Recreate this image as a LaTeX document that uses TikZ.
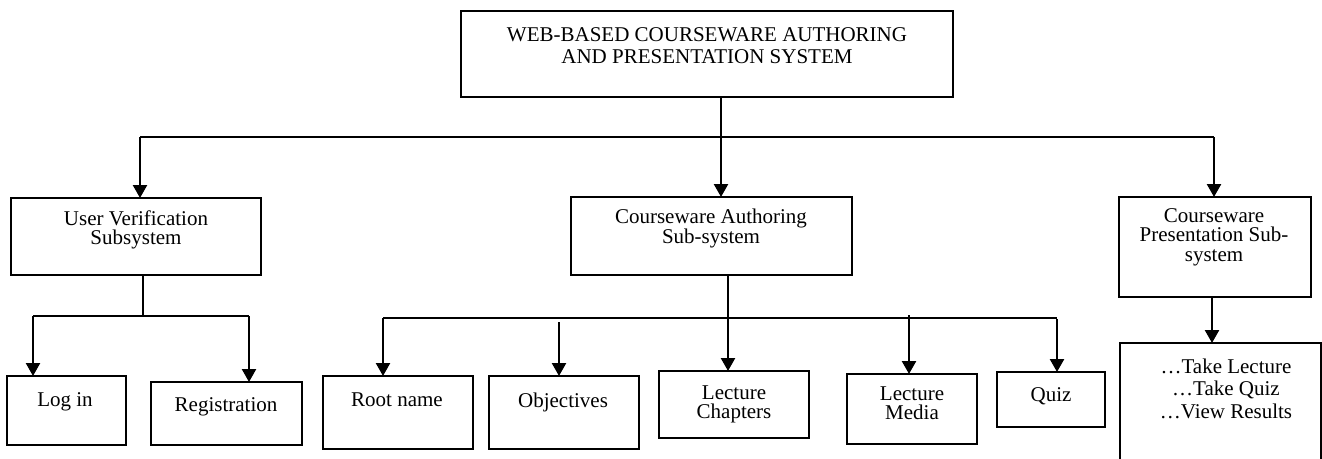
\documentclass[tikz,border=0pt]{standalone}
\usepackage{fontspec}
\setmainfont{Liberation Serif}
\usetikzlibrary{arrows.meta}
\begin{document}
\begin{tikzpicture}[x=1pt,y=-1pt,
  box/.style={draw,rectangle,line width=2.3pt,inner sep=0pt,outer sep=0pt},
  lbl/.style={anchor=north,inner sep=0pt,align=center,
    font=\fontsize{21}{#1}\selectfont},
  lbl/.default=19.5,
  bus/.style={line width=1.7pt},
  arr/.style={line width=2.4pt,-{Triangle[width=14pt,length=13pt]}},
]
\path[use as bounding box] (0,0) rectangle (1322,458);

% boxes
\node[box,minimum width=492pt,minimum height=86pt] (top) at (707,54) {};
\node[box,minimum width=250pt,minimum height=77pt] (uv) at (136,236.5) {};
\node[box,minimum width=281pt,minimum height=78pt] (auth) at (711.5,236) {};
\node[box,minimum width=192pt,minimum height=100pt] (pres) at (1215,247) {};
\node[box,minimum width=119pt,minimum height=69pt] (login) at (66.5,410.5) {};
\node[box,minimum width=151pt,minimum height=63pt] (reg) at (226.5,413.5) {};
\node[box,minimum width=150pt,minimum height=73pt] (root) at (398,412.5) {};
\node[box,minimum width=150pt,minimum height=73pt] (obj) at (564,412.5) {};
\node[box,minimum width=150pt,minimum height=67pt] (chap) at (734,404.5) {};
\node[box,minimum width=130pt,minimum height=70pt] (media) at (912,409) {};
\node[box,minimum width=108pt,minimum height=55pt] (quiz) at (1051,399.5) {};
\node[box,minimum width=201pt,minimum height=132pt] (take) at (1220.5,409) {};

% box texts (placed near the top of each box)
\node[lbl=22] (topT) at (707,27.7) {WEB-BASED COURSEWARE AUTHORING\\AND PRESENTATION SYSTEM};
\node[lbl] (uvT) at (136,210.2) {User Verification\\Subsystem};
\node[lbl=20] (authT) at (711,208.7) {Courseware Authoring\\Sub-system};
\node[lbl] (presT) at (1214,208.2) {Courseware\\Presentation Sub-\\system};
\node[lbl] (loginT) at (65,392.7) {Log in};
\node[lbl] (regT) at (226,397.7) {Registration};
\node[lbl] (rootT) at (397,392.7) {Root name};
\node[lbl] (objT) at (563,392.7) {Objectives};
\node[lbl] (chapT) at (734,385.2) {Lecture\\Chapters};
\node[lbl] (mediaT) at (912,386.2) {Lecture\\Media};
\node[lbl] (quizT) at (1051,387.7) {Quiz};
\node[lbl=22.5] (takeT) at (1226,358.7) {…Take Lecture\\…Take Quiz\\…View Results};

% main level
\coordinate (tX) at (721,0);
\coordinate (busL) at (140,137);
\coordinate (busR) at (1214,137);
\draw[arr] (top.south -| tX) -- (auth.north -| tX);
\draw[bus] (busL) -- (busR);
\draw[arr] (busL) -- (uv.north -| busL);
\draw[arr] (busR) -- (pres.north -| busR);

% user verification branch
\coordinate (uvJ) at (143,316);
\coordinate (uvL) at (33,316);
\coordinate (uvR) at (249,316);
\draw[bus] (uv.south -| uvJ) -- (uvJ);
\draw[bus] (uvL) -- (uvR);
\draw[arr] (uvL) -- (login.north -| uvL);
\draw[arr] (uvR) -- (reg.north -| uvR);

% authoring branch
\coordinate (aX) at (728,0);
\coordinate (aL) at (383,318);
\coordinate (aR) at (1057,318);
\coordinate (oJ) at (559,322);
\coordinate (mJ) at (909,315);
\coordinate (qJ) at (1057,319);
\draw[arr] (auth.south -| aX) -- (chap.north -| aX);
\draw[bus] (aL) -- (aR);
\draw[arr] (aL) -- (root.north -| aL);
\draw[arr] (oJ) -- (obj.north -| oJ);
\draw[arr] (mJ) -- (media.north -| mJ);
\draw[arr] (qJ) -- (quiz.north -| qJ);

% presentation branch
\coordinate (pX) at (1212,0);
\draw[arr] (pres.south -| pX) -- (take.north -| pX);
\end{tikzpicture}
\end{document}
